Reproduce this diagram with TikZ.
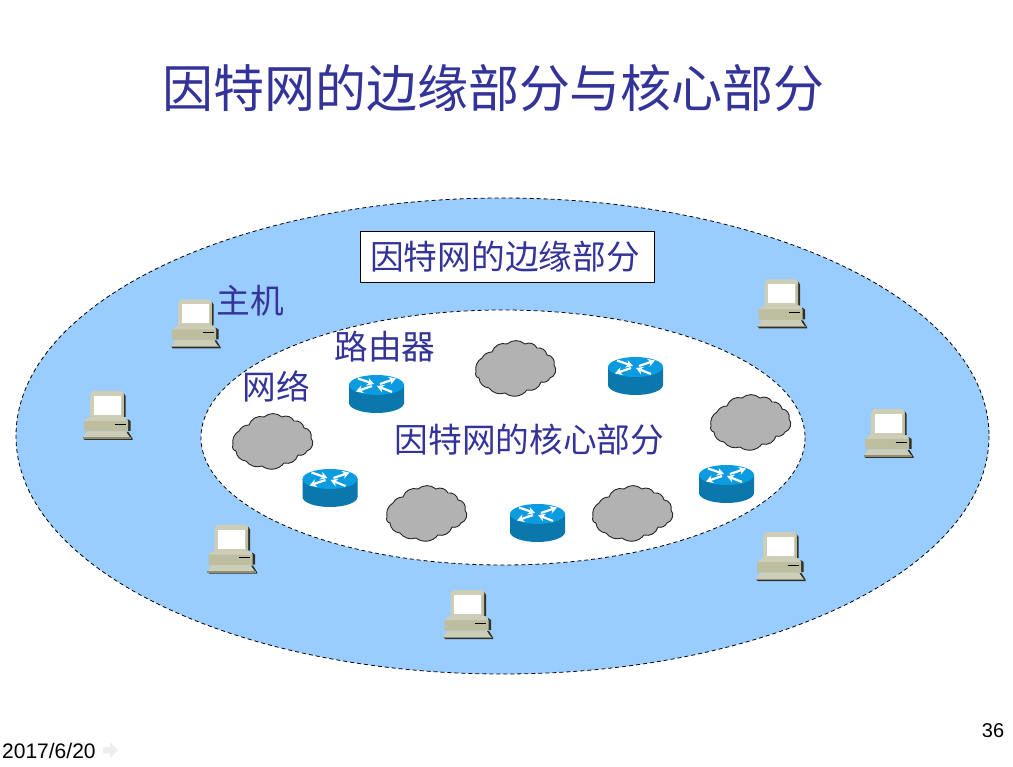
\documentclass[tikz,border=0pt]{standalone}
\usepackage{fontspec}
\setmainfont{Liberation Sans}
\newfontfamily\cjk{Noto Sans CJK SC}
\usetikzlibrary{arrows.meta}
\definecolor{titleblue}{HTML}{333399}
\definecolor{skyfill}{HTML}{99CCFF}
\definecolor{pcbody}{HTML}{BDBDA0}
\definecolor{pclight}{HTML}{CECEB8}
\definecolor{pcdark}{HTML}{8F8F78}
\definecolor{pcshadow}{HTML}{30302A}
\definecolor{rtop}{HTML}{0A9BE0}
\definecolor{rside}{HTML}{0A78AD}
\definecolor{cloudgray}{HTML}{B2B2B2}
\tikzset{
  x=1pt,y=-1pt,
  ring/.style={draw=black,dash pattern=on 4pt off 3pt,line width=0.8pt},
  cjklabel/.style={font=\cjk\fontsize{33.7}{36}\selectfont,text=titleblue,inner sep=0pt},
  rarrow/.style={white,line width=2.2pt,-{Stealth[length=7pt,width=8pt]}},
  pics/computer/.style={code={
    % shadows
    \fill[pcshadow] (41,2) -- (43,5) -- (43,26) -- (41,26) -- cycle;
    \fill[pcshadow] (45,28) -- (48,30) -- (48,40) -- (45,40) -- cycle;
    \fill[pcshadow] (1,47) -- (47,47) -- (44,41) -- (46,41) -- (50,47.5) -- (50,49) -- (2,49) -- cycle;
    % monitor
    \fill[pclight] (7.5,4) -- (10,0) -- (39,0) -- (41,3) -- (41,27) -- (7.5,27) -- cycle;
    \fill[pcbody] (39,5) rectangle (41,27);
    \fill[white] (11,5) rectangle (38,24);
    % base
    \fill[pcbody] (1.5,30) -- (7,26) -- (41,26) -- (45.5,30) -- (45.5,40.5) -- (1.5,40.5) -- cycle;
    \fill[pclight] (1.5,30) -- (7,26) -- (41,26) -- (45.5,30) -- cycle;
    \draw[black,line width=0.7pt] (32,33) -- (43,33);
    % keyboard
    \fill[pclight] (5,40.5) -- (43,40.5) -- (48,47) -- (0,47) -- cycle;
    \fill[pcdark] (0,46.5) rectangle (48.5,48);
  }},
  pics/routericon/.style={code={
    \fill[rside] (0,10) -- (0,28) arc[start angle=180,end angle=0,x radius=27.5,y radius=10] -- (55,10) -- cycle;
    \fill[rtop] (27.5,10) ellipse[x radius=27.5,y radius=10];
    \draw[rarrow] (9,3.5) -- (25,9);
    \draw[rarrow] (31,9) -- (47,3.5);
    \draw[rarrow] (23,11) -- (7,16.5);
    \draw[rarrow] (43,17) -- (28,11);
  }},
  pics/cloudshape/.style={code={
    \draw[fill=cloudgray,draw=black!85,line width=0.9pt]
      (1,31) to[bend left=35] (7,17)
      to[bend left=30] (17,11)
      to[bend left=45] (32,3)
      to[bend left=40] (50,3)
      to[bend left=45] (62,7)
      to[bend left=45] (72,14)
      to[bend left=55] (79,24)
      to[bend left=60] (75,37)
      to[bend left=40] (66,41)
      to[bend left=45] (52,49)
      to[bend left=45] (30,52)
      to[bend left=35] (14,47)
      to[bend left=40] (4,37)
      to[bend left=60] (1,31) -- cycle;
  }}
}
\begin{document}
\begin{tikzpicture}
\useasboundingbox (0,0) rectangle (1013,767);
\fill[white] (0,0) rectangle (1013,767);

% rings
\draw[ring,fill=skyfill] (502.5,436) ellipse[x radius=486.5,y radius=238];
\draw[ring,fill=white] (503,437.5) ellipse[x radius=302,y radius=127.5];

% texts
\node[font=\cjk\fontsize{51}{54}\selectfont,text=titleblue,inner sep=0pt] (title) at (493.5,88) {因特网的边缘部分与核心部分};
\node[draw=black,fill=white,line width=0.8pt,minimum width=294pt,minimum height=51pt,inner sep=0pt] (edge) at (507,256.5) {};
\node[cjklabel] (edgetext) at (505,256.5) {因特网的边缘部分};
\node[cjklabel] (host) at (250,301) {主机};
\node[cjklabel] (router) at (385,347) {路由器};
\node[cjklabel] (network) at (276.5,386) {网络};
\node[cjklabel] (core) at (529.5,440) {因特网的核心部分};

% computers
\pic at (170.5,299.5) {computer};
\pic at (757,279.5) {computer};
\pic at (82.5,391) {computer};
\pic at (863.5,409) {computer};
\pic at (207,524.5) {computer};
\pic at (755.5,532) {computer};
\pic at (443,590) {computer};

% routers
\pic at (349,375) {routericon};
\pic at (608,357) {routericon};
\pic at (302.5,469) {routericon};
\pic at (699,465) {routericon};
\pic at (510,504) {routericon};

% clouds
\pic at (232,414) {cloudshape};
\pic at (475,341) {cloudshape};
\pic at (710,395) {cloudshape};
\pic at (386,486) {cloudshape};
\pic at (592,486) {cloudshape};

% footer
\fill[black!7] (103,747) -- (110,747) -- (110,742) -- (118,750) -- (110,758) -- (110,753) -- (103,753) -- cycle;
\fill[black!5] (70,742) rectangle (85,746);
\fill[black!5] (10,742) -- (2,750) -- (10,758) -- cycle;
\node[anchor=west,inner sep=0pt,font=\fontsize{21}{22}\selectfont,text=black] (date) at (2,751) {2017/6/20};
\node[anchor=center,inner sep=0pt,font=\fontsize{20}{22}\selectfont,text=black] (page) at (993,731) {36};
\end{tikzpicture}
\end{document}
